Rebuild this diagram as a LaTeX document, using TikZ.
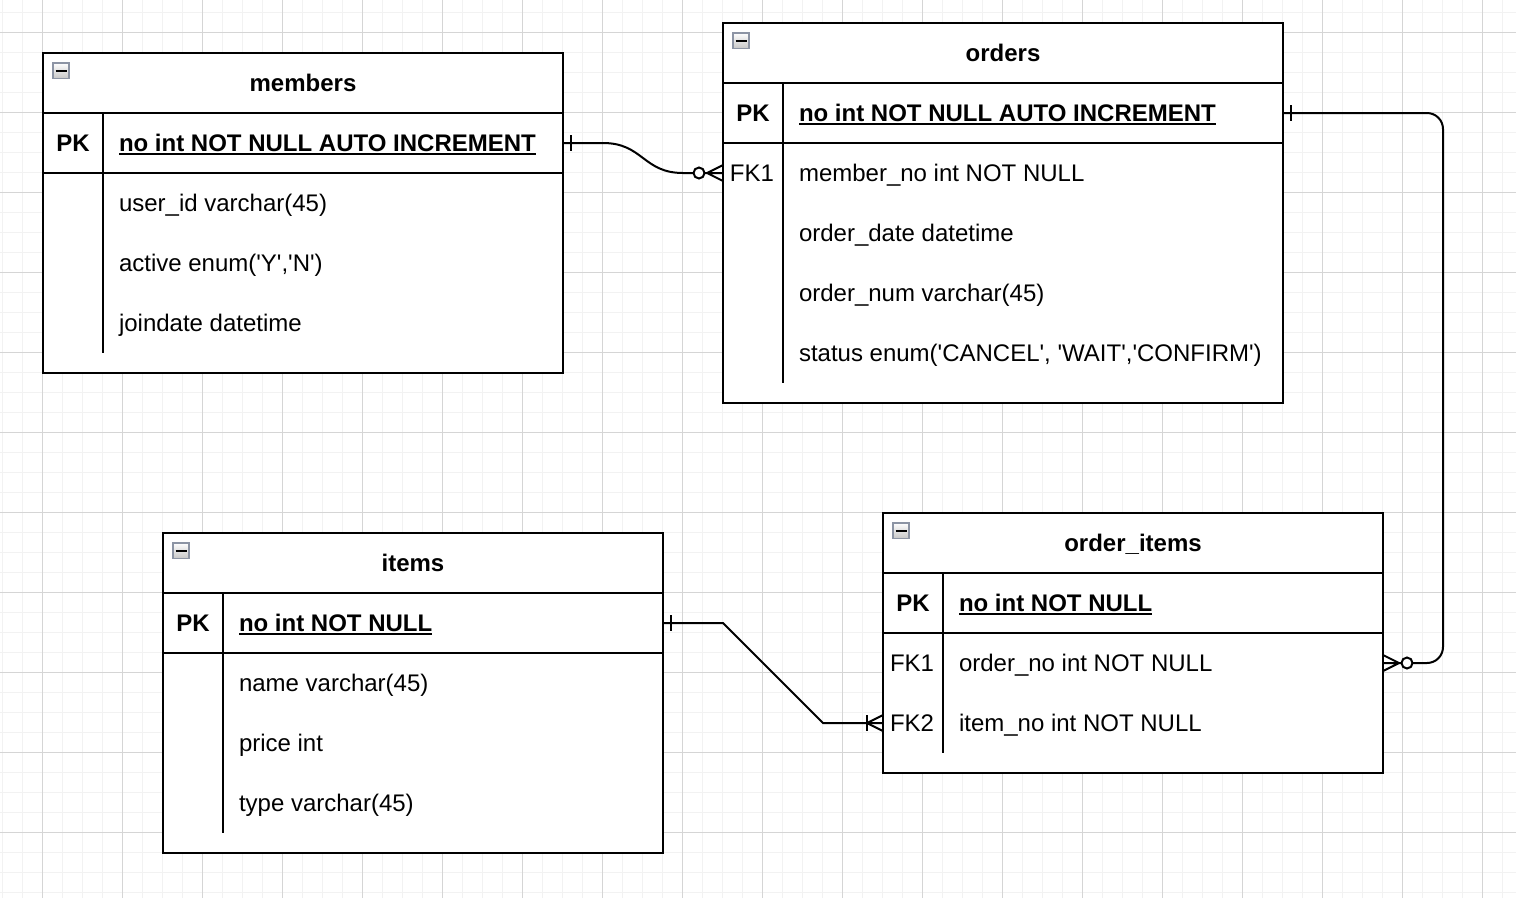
\documentclass[tikz,border=0pt]{standalone}
\usepackage{fontspec}
\newfontfamily\erfont{Liberation Sans}
\definecolor{gridminor}{HTML}{F2F2F2}
\definecolor{gridmajor}{HTML}{D5D5D5}
\definecolor{togglegray}{HTML}{8C94A4}
\newsavebox\keybox
\newcommand{\keyfield}[1]{\sbox\keybox{#1}\rlap{\rule[-3.5pt]{\wd\keybox}{1.8pt}}\usebox\keybox}

\begin{document}
\begin{tikzpicture}[x=1pt, y=-1pt, line width=2pt,
        every node/.append style={font=\erfont\fontsize{24}{28}\selectfont}]
      \tikzstyle{tablebox} = [draw, fill=white, line width=2pt, inner sep=0, outer sep=0, anchor=north west]
      \tikzstyle{title} = [font=\erfont\fontsize{24}{28}\selectfont\bfseries, text height=16pt, text depth=0pt, inner sep=0]
      \tikzstyle{pkcell} = [font=\erfont\fontsize{24}{28}\selectfont\bfseries, text height=16pt, text depth=0pt, inner sep=0]
      \tikzstyle{fkcell} = [text height=16pt, text depth=0pt, inner sep=0]
      \tikzstyle{field} = [anchor=west, text height=16pt, text depth=0pt, inner sep=0]
      \tikzstyle{pkfield} = [field, font=\erfont\fontsize{24}{28}\selectfont\bfseries]
      \tikzstyle{toggle} = [draw=togglegray, line width=1.5pt, minimum width=16pt, minimum height=15.5pt, inner sep=0,
        top color=white, bottom color=black!22,
        path picture={\draw[line width=2pt, black] ([xshift=-5.5pt]path picture bounding box.center) -- ([xshift=5.5pt]path picture bounding box.center);}]
      \tikzstyle{relation} = [line width=2pt, black]
      \tikzstyle{zero} = [circle, draw, fill=white, line width=2pt, minimum size=11pt, inner sep=0]
      \useasboundingbox (0,0) rectangle (1516,898);
      \fill[white] (0,0) rectangle (1516,898);
      \foreach \gx in {2,22,...,1502} \draw[gridminor, line width=1pt] (\gx,0) -- (\gx,898);
      \foreach \gy in {12,32,...,892} \draw[gridminor, line width=1pt] (0,\gy) -- (1516,\gy);
      \foreach \gx in {42,122,...,1482} \draw[gridmajor, line width=1pt] (\gx,0) -- (\gx,898);
      \foreach \gy in {32,112,...,832} \draw[gridmajor, line width=1pt] (0,\gy) -- (1516,\gy);

      % members
      \node[tablebox, minimum width=520pt, minimum height=320pt] (members) at (43,53) {};
      \draw (members.north west) ++(0,60) -- ++(520,0);
      \draw (members.north west) ++(0,120) -- ++(520,0);
      \draw (members.north west) ++(60,60) -- ++(0,240);
      \node[toggle] (members-toggle) at ([xshift=18pt, yshift=-17.5pt]members.north west) {};
      \node[title] (members-name) at (303,83) {members};
      \node[pkcell] (members-pk-key) at (73,143) {PK};
      \node[pkfield] (members-pk) at (118,143) {\keyfield{no int NOT NULL AUTO INCREMENT}};
      \node[field] (members-user) at (118,203) {user\_id varchar(45)};
      \node[field] (members-active) at (118,263) {active enum('Y','N')};
      \node[field] (members-join) at (118,323) {joindate datetime};

      % orders
      \node[tablebox, minimum width=560pt, minimum height=380pt] (orders) at (723,23) {};
      \draw (orders.north west) ++(0,60) -- ++(560,0);
      \draw (orders.north west) ++(0,120) -- ++(560,0);
      \draw (orders.north west) ++(60,60) -- ++(0,300);
      \node[toggle] (orders-toggle) at ([xshift=18pt, yshift=-17.5pt]orders.north west) {};
      \node[title] (orders-name) at (1003,53) {orders};
      \node[pkcell] (orders-pk-key) at (753,113) {PK};
      \node[fkcell] (orders-fk1-key) at (752,173) {FK1};
      \node[pkfield] (orders-pk) at (798,113) {\keyfield{no int NOT NULL AUTO INCREMENT}};
      \node[field] (orders-fk1) at (798,173) {member\_no int NOT NULL};
      \node[field] (orders-date) at (798,233) {order\_date datetime};
      \node[field] (orders-num) at (798,293) {order\_num varchar(45)};
      \node[field] (orders-status) at (798,353) {status enum('CANCEL', 'WAIT','CONFIRM')};

      % items
      \node[tablebox, minimum width=500pt, minimum height=320pt] (items) at (163,533) {};
      \draw (items.north west) ++(0,60) -- ++(500,0);
      \draw (items.north west) ++(0,120) -- ++(500,0);
      \draw (items.north west) ++(60,60) -- ++(0,240);
      \node[toggle] (items-toggle) at ([xshift=18pt, yshift=-17.5pt]items.north west) {};
      \node[title] (items-name) at (413,563) {items};
      \node[pkcell] (items-pk-key) at (193,623) {PK};
      \node[pkfield] (items-pk) at (238,623) {\keyfield{no int NOT NULL}};
      \node[field] (items-name-col) at (238,683) {name varchar(45)};
      \node[field] (items-price) at (238,743) {price int};
      \node[field] (items-type) at (238,803) {type varchar(45)};

      % order_items
      \node[tablebox, minimum width=500pt, minimum height=260pt] (oi) at (883,513) {};
      \draw (oi.north west) ++(0,60) -- ++(500,0);
      \draw (oi.north west) ++(0,120) -- ++(500,0);
      \draw (oi.north west) ++(60,60) -- ++(0,180);
      \node[toggle] (oi-toggle) at ([xshift=18pt, yshift=-17.5pt]oi.north west) {};
      \node[title] (oi-name) at (1133,543) {order\_items};
      \node[pkcell] (oi-pk-key) at (913,603) {PK};
      \node[fkcell] (oi-fk1-key) at (912,663) {FK1};
      \node[fkcell] (oi-fk2-key) at (912,723) {FK2};
      \node[pkfield] (oi-pk) at (958,603) {\keyfield{no int NOT NULL}};
      \node[field] (oi-fk1) at (958,663) {order\_no int NOT NULL};
      \node[field] (oi-fk2) at (958,723) {item\_no int NOT NULL};

      % relations
      \coordinate (members-pk-end) at (members.east |- members-pk);
      \coordinate (orders-fk1-end) at (orders.west |- orders-fk1);
      \coordinate (orders-pk-end) at (orders.east |- orders-pk);
      \coordinate (oi-fk1-end) at (oi.east |- oi-fk1);
      \coordinate (items-pk-end) at (items.east |- items-pk);
      \coordinate (oi-fk2-end) at (oi.west |- oi-fk2);

      \draw[relation] (members-pk-end) -- ++(40,0) .. controls +(40,0) and +(-40,0) .. ([xshift=-40pt]orders-fk1-end) -- ([xshift=-30pt]orders-fk1-end);
      \draw[relation] ([xshift=8pt, yshift=8pt]members-pk-end) -- ([xshift=8pt, yshift=-8pt]members-pk-end);
      \draw[relation] ([yshift=8pt]orders-fk1-end) -- ([xshift=-16pt]orders-fk1-end) -- ([yshift=-8pt]orders-fk1-end)
        ([xshift=-18pt]orders-fk1-end) -- (orders-fk1-end);
      \node[zero] (orders-fk1-zero) at ([xshift=-24pt]orders-fk1-end) {};

      \draw[relation, rounded corners=16pt] (orders-pk-end) -- ++(160,0) |- ([xshift=30pt]oi-fk1-end);
      \draw[relation] ([xshift=8pt, yshift=8pt]orders-pk-end) -- ([xshift=8pt, yshift=-8pt]orders-pk-end);
      \draw[relation] ([yshift=8pt]oi-fk1-end) -- ([xshift=16pt]oi-fk1-end) -- ([yshift=-8pt]oi-fk1-end)
        ([xshift=18pt]oi-fk1-end) -- (oi-fk1-end);
      \node[zero] (oi-fk1-zero) at ([xshift=24pt]oi-fk1-end) {};

      \draw[relation] (items-pk-end) -- ++(60,0) -- ([xshift=-60pt]oi-fk2-end) -- (oi-fk2-end);
      \draw[relation] ([xshift=8pt, yshift=8pt]items-pk-end) -- ([xshift=8pt, yshift=-8pt]items-pk-end);
      \draw[relation] ([xshift=-16pt, yshift=8pt]oi-fk2-end) -- ([xshift=-16pt, yshift=-8pt]oi-fk2-end);
      \draw[relation] ([yshift=8pt]oi-fk2-end) -- ([xshift=-16pt]oi-fk2-end) -- ([yshift=-8pt]oi-fk2-end);
    \end{tikzpicture}
\end{document}
